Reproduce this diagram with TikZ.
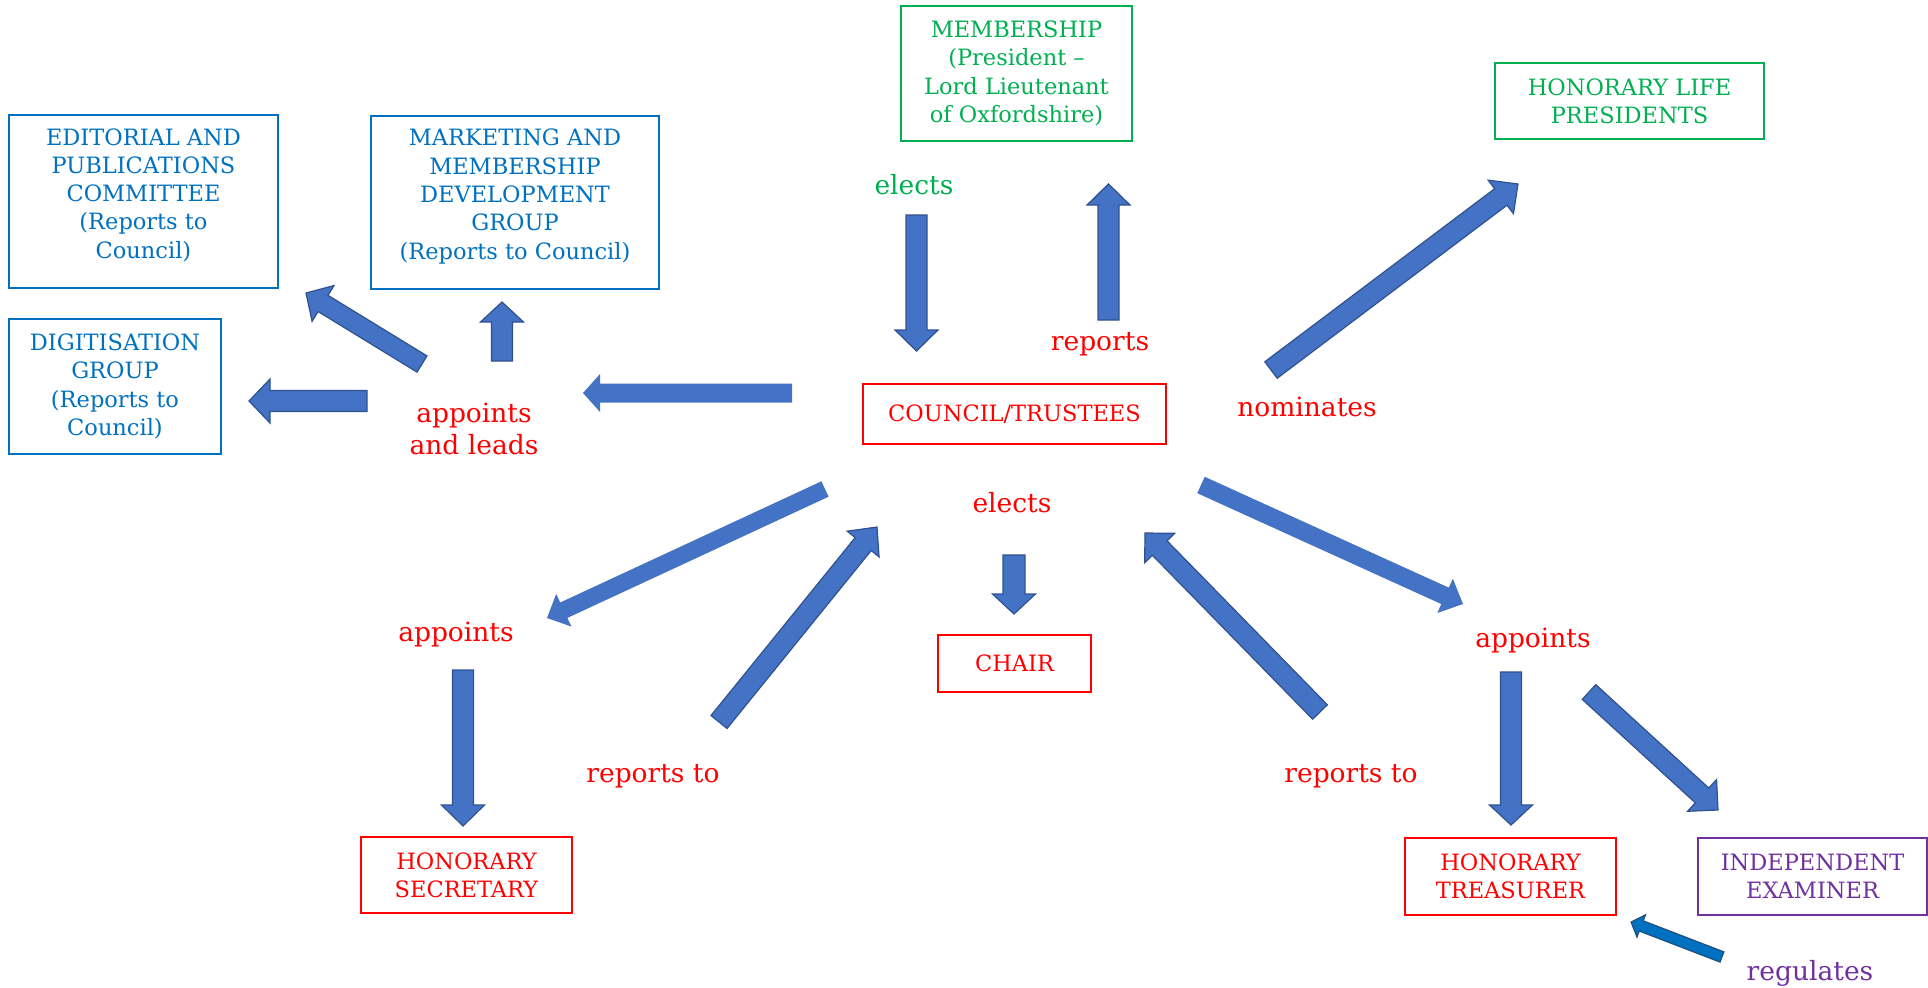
\documentclass[tikz,border=0pt]{standalone}
\usepackage{fontspec}
\setmainfont{DejaVu Serif}
\usetikzlibrary{calc}
\definecolor{cblue}{HTML}{0070C0}
\definecolor{cgreen}{HTML}{00B050}
\definecolor{cred}{HTML}{FF0000}
\definecolor{cpurple}{HTML}{7030A0}
\definecolor{afill}{HTML}{4472C4}
\definecolor{aline}{HTML}{2F528F}
\definecolor{rline}{HTML}{1F4E79}
\newcommand{\boxfont}{\fontsize{22.5}{28.3}\selectfont}
\newcommand{\lblfont}{\fontsize{26.5}{32}\selectfont}
% #1 style, #2 tail, #3 tip, #4 half shaft width, #5 half head width, #6 head length
\newcommand{\blkarrow}[6][]{%
  \path[#1] ($(#2)!#4!90:(#3)$)
    -- ($($(#3)!#6!(#2)$)!#4!90:(#3)$)
    -- ($($(#3)!#6!(#2)$)!#5!90:(#3)$)
    -- (#3)
    -- ($($(#3)!#6!(#2)$)!#5!-90:(#3)$)
    -- ($($(#3)!#6!(#2)$)!#4!-90:(#3)$)
    -- ($(#2)!#4!-90:(#3)$) -- cycle;}
\begin{document}
\begin{tikzpicture}[x=1pt,y=-1pt,
  box/.style={draw, line width=1.5pt, inner sep=0pt, align=center, font=\boxfont},
  boxtext/.style={inner sep=0pt, align=center, font=\boxfont},
  bluebox/.style={box, draw=cblue, text=cblue},
  greenbox/.style={box, draw=cgreen, text=cgreen},
  redbox/.style={box, draw=cred, text=cred},
  purplebox/.style={box, draw=cpurple, text=cpurple},
  lbl/.style={inner sep=0pt, align=center, font=\lblfont},
  bordered/.style={fill=afill, draw=aline, line width=1.2pt, line join=miter},
  plain/.style={fill=afill},
  darkblue/.style={fill=cblue, draw=rline, line width=1.1pt, line join=miter}]
\useasboundingbox (0,0) rectangle (1928,988);

% boxes
\node[bluebox, minimum width=269pt, minimum height=173pt] (edit) at (143.5,201.5) {};
\node[boxtext, text=cblue] (editT) at (143.5,195)
  {EDITORIAL AND\\PUBLICATIONS\\COMMITTEE\\(Reports to\\Council)};
\node[bluebox, minimum width=288pt, minimum height=173pt] (mkt) at (515,202.5) {};
\node[boxtext, text=cblue] (mktT) at (515,196.5)
  {MARKETING AND\\MEMBERSHIP\\DEVELOPMENT\\GROUP\\(Reports to Council)};
\node[bluebox, minimum width=212pt, minimum height=135pt] (dig) at (115,386.5)
  {DIGITISATION\\GROUP\\(Reports to\\Council)};
\node[greenbox, minimum width=231pt, minimum height=135pt] (memb) at (1016.5,73.5)
  {MEMBERSHIP\\(President –\\Lord Lieutenant\\of Oxfordshire)};
\node[greenbox, minimum width=269pt, minimum height=76pt] (life) at (1629.5,101)
  {HONORARY LIFE\\PRESIDENTS};
\node[redbox, minimum width=303pt, minimum height=60pt] (council) at (1014.5,414)
  {COUNCIL/TRUSTEES};
\node[redbox, minimum width=153pt, minimum height=57pt] (chair) at (1014.5,663.5)
  {CHAIR};
\node[redbox, minimum width=211pt, minimum height=76pt] (sec) at (466.5,875)
  {HONORARY\\SECRETARY};
\node[redbox, minimum width=211pt, minimum height=77pt] (treas) at (1510.5,876.5)
  {HONORARY\\TREASURER};
\node[purplebox, minimum width=229pt, minimum height=77pt] (exam) at (1812.5,876.5)
  {INDEPENDENT\\EXAMINER};

% labels
\node[lbl, text=cred] (apl) at (474,429) {appoints\\and leads};
\node[lbl, text=cgreen] (el1) at (914,185) {elects};
\node[lbl, text=cred] (rep) at (1100,344) {reports};
\node[lbl, text=cred] (nom) at (1307,407) {nominates};
\node[lbl, text=cred] (el2) at (1012,503) {elects};
\node[lbl, text=cred] (ap1) at (456,634) {appoints};
\node[lbl, text=cred] (rt1) at (653,776) {reports to};
\node[lbl, text=cred] (rt2) at (1351,776) {reports to};
\node[lbl, text=cred] (ap2) at (1533,640) {appoints};
\node[lbl, text=cpurple] (reg) at (1810,973) {regulates};

% arrow end points
\coordinate (a1s) at (792,393);  \coordinate (a1e) at (583,393);
\coordinate (a2s) at (367,401);  \coordinate (a2e) at (249,401);
\coordinate (a3s) at (422,364);  \coordinate (a3e) at (306,293);
\coordinate (a4s) at (502,361);  \coordinate (a4e) at (502,302);
\coordinate (a5s) at (916.5,215); \coordinate (a5e) at (916.5,351);
\coordinate (a6s) at (1108.5,320); \coordinate (a6e) at (1108.5,184);
\coordinate (a7s) at (1271,370); \coordinate (a7e) at (1518,184);
\coordinate (a8s) at (825,489);  \coordinate (a8e) at (547,618);
\coordinate (a9s) at (719,722);  \coordinate (a9e) at (877,527);
\coordinate (a10s) at (1014,555); \coordinate (a10e) at (1014,614);
\coordinate (a11s) at (1320,712); \coordinate (a11e) at (1145,533);
\coordinate (a12s) at (1201,485); \coordinate (a12e) at (1463,604);
\coordinate (a13s) at (1511,672); \coordinate (a13e) at (1511,825);
\coordinate (a14s) at (1589,692); \coordinate (a14e) at (1718,810);
\coordinate (a15s) at (1722,957); \coordinate (a15e) at (1631,922);
\coordinate (a16s) at (463,670);  \coordinate (a16e) at (463,826);

% block arrows
\blkarrow[plain]{a1s}{a1e}{9.5pt}{19pt}{17pt}
\blkarrow[bordered]{a2s}{a2e}{10.5pt}{22pt}{21pt}
\blkarrow[bordered]{a3s}{a3e}{9.5pt}{21pt}{20pt}
\blkarrow[bordered]{a4s}{a4e}{10.5pt}{21.5pt}{20pt}
\blkarrow[bordered]{a5s}{a5e}{10.5pt}{21.5pt}{21pt}
\blkarrow[bordered]{a6s}{a6e}{10.5pt}{21.5pt}{21pt}
\blkarrow[bordered]{a7s}{a7e}{10.3pt}{21pt}{21.5pt}
\blkarrow[plain]{a8s}{a8e}{8.5pt}{18pt}{18.5pt}
\blkarrow[bordered]{a9s}{a9e}{10.3pt}{20.5pt}{22pt}
\blkarrow[bordered]{a10s}{a10e}{11pt}{21.5pt}{20pt}
\blkarrow[bordered]{a11s}{a11e}{10.3pt}{21pt}{21pt}
\blkarrow[plain]{a12s}{a12e}{9pt}{18.8pt}{19.7pt}
\blkarrow[bordered]{a13s}{a13e}{10.5pt}{21.5pt}{20pt}
\blkarrow[bordered]{a14s}{a14e}{10pt}{21.5pt}{21.6pt}
\blkarrow[darkblue]{a15s}{a15e}{5.5pt}{12pt}{11pt}
\blkarrow[bordered]{a16s}{a16e}{10.5pt}{21.5pt}{21pt}
\end{tikzpicture}
\end{document}
